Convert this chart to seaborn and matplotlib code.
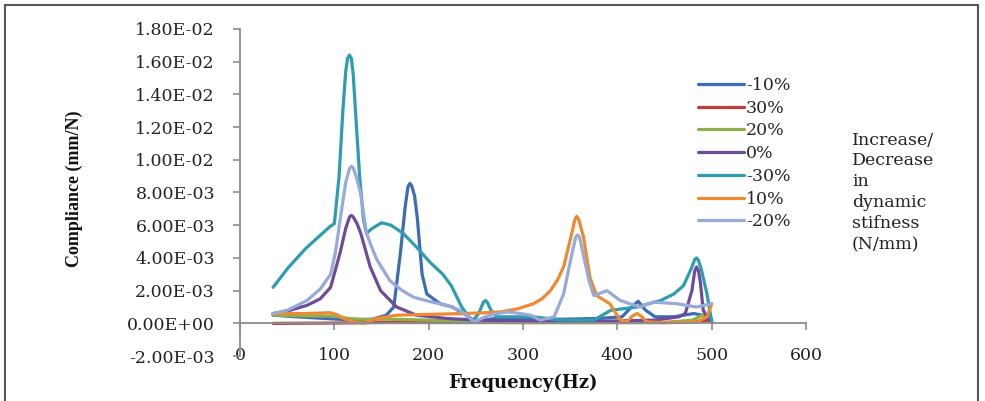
import pandas as pd
import numpy as np
import matplotlib
matplotlib.use("Agg")
import matplotlib.pyplot as plt
import seaborn as sns
from matplotlib.ticker import FuncFormatter, MultipleLocator
from matplotlib.patches import Rectangle

# series order as in the legend (also drawing order)
labels = ['-10%', '30%', '20%', '0%', '-30%', '10%', '-20%']
colors = ['#3B6DB5', '#B8403D', '#8DB04B', '#6E4C9A', '#2F9DB0', '#EE8A33', '#97AAD8']

# frequency (Hz) and compliance (x 1e-3 mm/N)
f_m10 = [35, 60, 90, 120, 140, 155, 163, 170, 175, 178, 180, 182, 185, 188, 193, 198, 212, 225, 237, 250,
         270, 300, 340, 380, 405, 415, 422, 430, 440, 460, 481, 490, 500]
c_m10 = [0.5, 0.4, 0.3, 0.2, 0.25, 0.5, 1.0, 4.3, 7.1, 8.35, 8.55, 8.4, 7.8, 6.4, 3.0, 1.8, 1.2, 1.0, 0.6, 0.1,
         0.3, 0.3, 0.25, 0.3, 0.4, 1.0, 1.35, 0.8, 0.4, 0.4, 0.6, 0.5, 0.1]

f_p30 = [35, 100, 150, 200, 250, 300, 350, 400, 450, 480, 500]
c_p30 = [0.0, 0.02, 0.05, 0.05, 0.05, 0.05, 0.05, 0.05, 0.05, 0.1, 0.2]

f_p20 = [35, 70, 100, 115, 130, 160, 200, 240, 280, 350, 400, 450, 480, 490, 500]
c_p20 = [0.5, 0.45, 0.45, 0.3, 0.25, 0.25, 0.2, 0.1, 0.05, 0.05, 0.05, 0.05, 0.2, 0.5, 0.3]

f_0 = [35, 50, 71, 85, 96, 106, 112, 116, 118, 120, 124, 128, 138, 149, 166, 187, 219, 250, 300, 350, 400,
       440, 465, 472, 479, 482, 484, 486, 488, 491, 496, 500]
c_0 = [0.6, 0.75, 1.1, 1.5, 2.2, 4.3, 5.8, 6.5, 6.6, 6.5, 6.1, 5.5, 3.45, 2.0, 1.0, 0.5, 0.3, 0.2, 0.15, 0.1, 0.15,
       0.2, 0.4, 0.6, 2.0, 3.2, 3.45, 3.2, 2.5, 0.8, 0.3, 0.1]

f_m30 = [35, 51, 70, 95, 100, 105, 109, 112, 114, 116, 118, 120, 123, 127, 131, 134, 140, 150, 160, 173, 188,
         202, 215, 224, 235, 246, 253, 258, 260, 262, 266, 272, 290, 311, 340, 375, 393, 421, 446, 460, 470,
         478, 482, 484, 486, 489, 495, 500]
c_m30 = [2.2, 3.4, 4.6, 5.9, 6.1, 9.0, 13.0, 15.4, 16.2, 16.4, 16.2, 15.2, 12.4, 8.8, 6.3, 5.5, 5.8, 6.15, 6.0, 5.5, 4.6,
         3.7, 3.0, 2.3, 1.0, 0.1, 0.6, 1.3, 1.4, 1.3, 0.8, 0.4, 0.4, 0.4, 0.2, 0.2, 0.8, 1.0, 1.4, 1.8, 2.3,
         3.3, 3.9, 4.0, 3.85, 3.3, 1.8, 0.1]

f_p10 = [35, 70, 96, 104, 110, 120, 131, 145, 166, 200, 237, 260, 276, 295, 311, 320, 329, 336, 343,
         350, 355, 357, 359, 364, 371, 378, 392, 403, 410, 416, 421, 426, 431, 445, 470, 485, 495, 500]
c_p10 = [0.6, 0.6, 0.65, 0.5, 0.3, 0.1, 0.0, 0.3, 0.5, 0.55, 0.6, 0.65, 0.7, 0.9, 1.2, 1.5, 2.0, 2.6, 3.45,
         5.1, 6.35, 6.55, 6.35, 5.3, 2.8, 1.7, 1.2, 0.2, 0.1, 0.45, 0.6, 0.4, 0.1, 0.05, 0.05, 0.1, 0.4, 1.2]

f_m20 = [35, 50, 71, 85, 96, 101, 106, 112, 116, 118, 120, 123, 128, 134, 140, 145, 159, 172, 184, 200, 219,
         233, 240, 248, 260, 272, 285, 297, 308, 318, 333, 343, 348, 352, 356, 358, 360, 365, 370, 375,
         389, 403, 424, 438, 463, 484, 500]
c_m20 = [0.6, 0.8, 1.4, 2.1, 3.0, 4.3, 6.3, 8.6, 9.45, 9.6, 9.5, 9.0, 7.9, 5.5, 4.6, 3.9, 2.6, 2.0, 1.6, 1.35, 1.1,
         0.8, 0.5, 0.1, 0.4, 0.6, 0.7, 0.6, 0.5, 0.2, 0.4, 1.8, 3.2, 4.3, 5.3, 5.4, 5.25, 3.9, 2.6, 1.7,
         2.0, 1.4, 1.0, 1.3, 1.2, 1.0, 1.2]

freqs = [f_m10, f_p30, f_p20, f_0, f_m30, f_p10, f_m20]
comps = [c_m10, c_p30, c_p20, c_0, c_m30, c_p10, c_m20]

frames = []
for lab, f, c in zip(labels, freqs, comps):
    frames.append(pd.DataFrame({'Frequency': f, 'Compliance': np.array(c) * 1e-3, 'Change': lab}))
df = pd.concat(frames, ignore_index=True)

sns.set_theme(style="white")
plt.rcParams['font.family'] = ['DejaVu Serif']

fig = plt.figure(figsize=(9.85, 4.01), dpi=100)
ax = fig.add_axes([0.2437, 0.112, 0.5746, 0.816])
sns.lineplot(data=df, x='Frequency', y='Compliance', hue='Change', hue_order=labels,
             palette=colors, sort=False, estimator=None, linewidth=2.3, ax=ax)

ax.set_xlim(0, 600)
ax.set_ylim(-0.002, 0.018)
ax.xaxis.set_major_locator(MultipleLocator(100))
ax.yaxis.set_major_locator(MultipleLocator(0.002))
ax.yaxis.set_major_formatter(FuncFormatter(lambda v, p: '{:.2E}'.format(v)))

gray = '#8C8C8C'
ax.spines['top'].set_visible(False)
ax.spines['right'].set_visible(False)
ax.spines['bottom'].set_position(('data', 0))
for s in ['left', 'bottom']:
    ax.spines[s].set_color(gray)
    ax.spines[s].set_linewidth(1.3)
ax.tick_params(axis='both', direction='out', length=5, width=1.2, color=gray,
               labelsize=12.5, labelcolor='#222222')
ax.tick_params(axis='y', pad=13)
ax.tick_params(axis='x', pad=12)
ax.tick_params(left=True, bottom=True)

ax.set_xlabel('Frequency(Hz)', fontsize=13, fontweight='bold', color='#111111')
ax.xaxis.set_label_coords(0.5, -0.055)
ax.set_ylabel('Compliance (mm/N)', fontsize=13, fontweight='bold', color='#111111',
              family=['Liberation Serif'])
ax.yaxis.set_label_coords(-0.278, 0.51)

h, l = ax.get_legend_handles_labels()
leg = ax.legend(h, l, loc='upper left', bbox_to_anchor=(0.709, 0.808), bbox_transform=fig.transFigure,
                frameon=False, prop={'family': 'DejaVu Serif', 'size': 12.5}, labelspacing=0.33,
                handlelength=2.6, handletextpad=0.15, borderpad=0, borderaxespad=0)
for line in leg.get_lines():
    line.set_linewidth(2.3)

fig.text(0.865, 0.672, 'Increase/\nDecrease\nin\ndynamic\nstifness\n(N/mm)', fontsize=12.5,
         family='DejaVu Serif', va='top', ha='left', linespacing=1.3, color='#222222')

fig.patches.append(Rectangle((0.005, -0.02), 0.988, 1.007, transform=fig.transFigure,
                             fill=False, edgecolor='#555555', linewidth=1.5))

fig.savefig('out.png', dpi=100)
